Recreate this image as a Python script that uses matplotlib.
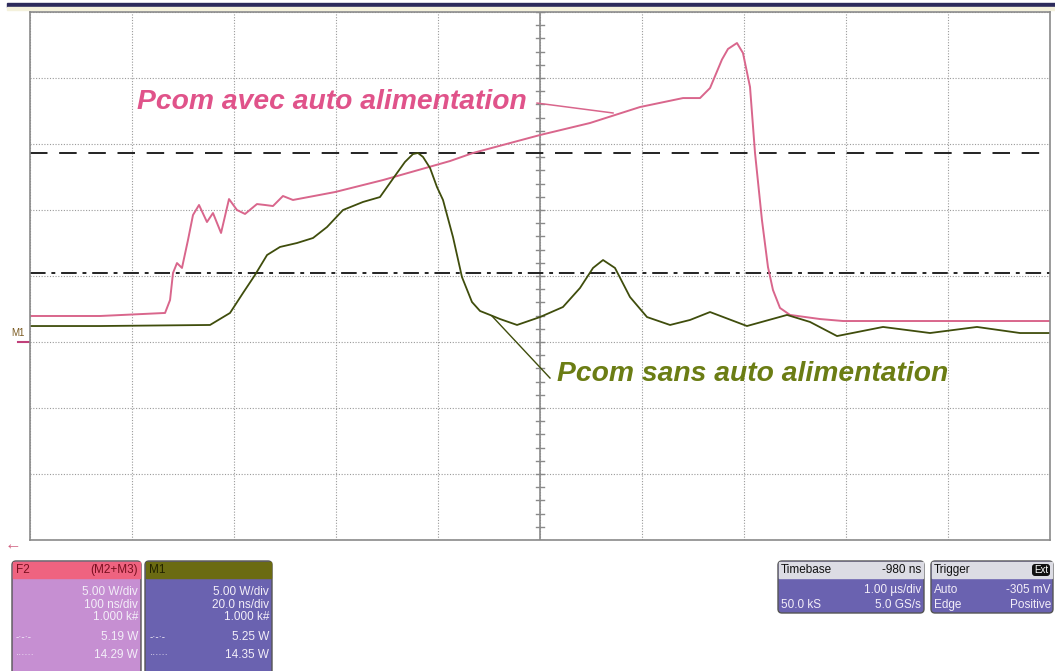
import numpy as np
import matplotlib
matplotlib.use("Agg")
import matplotlib.pyplot as plt
from matplotlib.patches import FancyBboxPatch, Rectangle

plt.rcParams['font.family'] = ['Liberation Sans', 'DejaVu Sans']

# time in divisions (1.00 us/div), power in W (5.00 W/div)
t_avec = [0.0, 0.686, 1.324, 1.373, 1.402, 1.441, 1.490, 1.549, 1.598, 1.657,
          1.735, 1.794, 1.873, 1.951, 2.029, 2.108, 2.225, 2.304, 2.382, 2.480,
          2.578, 2.990, 3.461, 4.118, 4.343, 5.0, 5.490, 5.980, 6.402, 6.569,
          6.667, 6.784, 6.843, 6.931, 6.990, 7.059, 7.108, 7.176, 7.235, 7.284,
          7.353, 7.451, 7.745, 7.971, 10.0]
p_avec = [1.97, 1.97, 2.20, 3.18, 5.23, 5.98, 5.61, 7.73, 9.62, 10.38,
          9.09, 9.77, 8.26, 10.83, 10.0, 9.70, 10.45, 10.38, 10.30, 11.06,
          10.76, 11.36, 12.27, 13.71, 14.32, 15.68, 16.59, 17.80, 18.48, 18.48,
          19.24, 21.4, 22.2, 22.65, 21.89, 19.32, 14.32, 9.24, 5.68, 3.94,
          2.58, 2.05, 1.74, 1.59, 1.59]

t_sans = [0.0, 0.686, 1.765, 1.961, 2.088, 2.206, 2.324, 2.451, 2.618, 2.775,
          2.912, 3.069, 3.265, 3.431, 3.598, 3.676, 3.755, 3.804, 3.853, 3.922,
          3.990, 4.049, 4.147, 4.235, 4.333, 4.412, 4.510, 4.608, 4.775, 5.0,
          5.225, 5.392, 5.520, 5.618, 5.735, 5.882, 6.049, 6.275, 6.471, 6.667,
          7.029, 7.422, 7.647, 7.912, 8.363, 8.824, 9.284, 9.706, 10.0]
p_sans = [1.21, 1.21, 1.29, 2.20, 3.71, 5.08, 6.59, 7.20, 7.50, 7.88,
          8.71, 10.0, 10.61, 10.98, 12.80, 13.64, 14.24, 14.32, 14.02, 13.18,
          11.74, 10.76, 7.95, 4.92, 3.03, 2.35, 2.05, 1.74, 1.29, 1.89,
          2.65, 4.09, 5.61, 6.21, 5.61, 3.41, 1.89, 1.29, 1.67, 2.27,
          1.21, 2.05, 1.52, 0.45, 1.14, 0.68, 1.14, 0.68, 0.68]

cursor_dash = 14.29
cursor_dashdot = 5.19

f2_rows = ["5.00 W/div", "100 ns/div", "1.000 k#", "5.19 W", "14.29 W"]
m1_rows = ["5.00 W/div", "20.0 ns/div", "1.000 k#", "5.25 W", "14.35 W"]

PINK = '#d9668c'
OLIVE = '#3f4d0c'
BLUE = '#6a62b0'

W, H = 1055, 671
fig = plt.figure(figsize=(W / 100, H / 100), dpi=100)
fig.patch.set_facecolor('white')

# overlay in pixel coordinates for the scope furniture
ov = fig.add_axes([0, 0, 1, 1])
ov.set_xlim(0, W)
ov.set_ylim(H, 0)
ov.axis('off')
ov.add_patch(Rectangle((7, 3), W - 7, 4, color='#2d2b5c'))
ov.add_patch(Rectangle((7, 7), W - 7, 3, color='#f4f1dc'))

ax = fig.add_axes([30 / W, 131 / H, 1020 / W, 528 / H])
ax.set_xlim(0, 10)
ax.set_ylim(-15, 25)
ax.set_xticks(range(11))
ax.set_yticks(range(-15, 26, 5))
ax.tick_params(length=0, labelbottom=False, labelleft=False)
ax.grid(True, linestyle=(0, (1, 1.5)), color='#9a9a9a', lw=0.8)
for s in ax.spines.values():
    s.set_color('#8a8a8a')
    s.set_linewidth(1.2)

# center cross with tick marks
ax.axvline(5, color='#8a8a8a', lw=1.2)
for yy in np.arange(-15, 25.01, 1):
    ax.plot([4.965, 5.035], [yy, yy], color='#8a8a8a', lw=1)

# cursors
ax.axhline(cursor_dash, color='#222222', lw=1.4, dashes=(9, 6))
ax.axhline(cursor_dashdot, color='#222222', lw=1.4, dashes=(8, 3, 2, 3))

ax.plot(t_avec, p_avec, color=PINK, lw=1.4)
ax.plot(t_sans, p_sans, color=OLIVE, lw=1.3)

# annotations
ax.text(1.049, 18.18, "Pcom avec auto alimentation", color='#e0538a',
        fontsize=20.3, fontweight='bold', fontstyle='italic', va='center', ha='left')
ax.plot([4.971, 5.716], [18.1, 17.35], color=PINK, lw=1.1)
ax.text(5.167, -2.42, "Pcom sans auto alimentation", color='#6b7d14',
        fontsize=20.3, fontweight='bold', fontstyle='italic', va='center', ha='left')
ax.plot([4.529, 5.098], [1.97, -2.73], color=OLIVE, lw=1.0)

# M1 marker and arrow
ov.text(11, 333, "M1", color='#7a5a20', fontsize=7, va='center', ha='left')
ov.plot([18, 30], [342, 342], color='#c0407a', lw=1.5)
ov.text(5, 545, "\u2190", color='#d06080', fontsize=12, va='center', ha='left')


def panel(x0, x1, y0, y1, hdr_col, body_col, hh=16):
    ov.add_patch(FancyBboxPatch((x0, y0), x1 - x0, y1 - y0,
                                boxstyle="round,pad=0,rounding_size=4",
                                fc=body_col, ec='#555555', lw=1))
    ov.add_patch(Rectangle((x0 + 1, y0 + 1), x1 - x0 - 2, hh, color=hdr_col))


fs = 8.5
txt = '#f3eef8'

# F2 panel
panel(12, 141, 561, 675, '#ef6380', '#c68fd2')
ov.text(16, 570, "F2", color='#7a1020', fontsize=fs, va='center')
ov.text(138, 570, "(M2+M3)", color='#7a1020', fontsize=fs, va='center', ha='right')
for row, yy in zip(f2_rows, [592, 605, 617, 637, 655]):
    ov.text(138, yy, row, color=txt, fontsize=fs, va='center', ha='right')
ov.text(16, 637, "-\u00b7-\u00b7-", color=txt, fontsize=7, va='center')
ov.text(16, 655, "\u00b7\u00b7\u00b7\u00b7\u00b7\u00b7", color=txt, fontsize=7, va='center')

# M1 panel
panel(145, 272, 561, 675, '#6b6b12', BLUE)
ov.text(149, 570, "M1", color='#222200', fontsize=fs, va='center')
for row, yy in zip(m1_rows, [592, 605, 617, 637, 655]):
    ov.text(269, yy, row, color=txt, fontsize=fs, va='center', ha='right')
ov.text(150, 637, "-\u00b7-\u00b7-", color=txt, fontsize=7, va='center')
ov.text(150, 655, "\u00b7\u00b7\u00b7\u00b7\u00b7\u00b7", color=txt, fontsize=7, va='center')

# Timebase panel
panel(778, 924, 561, 613, '#dcdce4', BLUE)
ov.text(781, 570, "Timebase", color='#111111', fontsize=fs, va='center')
ov.text(921, 570, "-980 ns", color='#111111', fontsize=fs, va='center', ha='right')
ov.text(921, 590, "1.00 \u00b5s/div", color=txt, fontsize=fs, va='center', ha='right')
ov.text(781, 605, "50.0 kS", color=txt, fontsize=fs, va='center')
ov.text(921, 605, "5.0 GS/s", color=txt, fontsize=fs, va='center', ha='right')

# Trigger panel
panel(931, 1053, 561, 613, '#dcdce4', BLUE)
ov.text(934, 570, "Trigger", color='#111111', fontsize=fs, va='center')
ov.add_patch(FancyBboxPatch((1032, 564), 18, 12, boxstyle="round,pad=0,rounding_size=3",
                            fc='#111111', ec='none'))
ov.text(1041, 570, "Ext", color='white', fontsize=7, va='center', ha='center')
ov.text(934, 590, "Auto", color=txt, fontsize=fs, va='center')
ov.text(1051, 590, "-305 mV", color=txt, fontsize=fs, va='center', ha='right')
ov.text(934, 605, "Edge", color=txt, fontsize=fs, va='center')
ov.text(1051, 605, "Positive", color=txt, fontsize=fs, va='center', ha='right')

fig.savefig("out.png", dpi=100)
